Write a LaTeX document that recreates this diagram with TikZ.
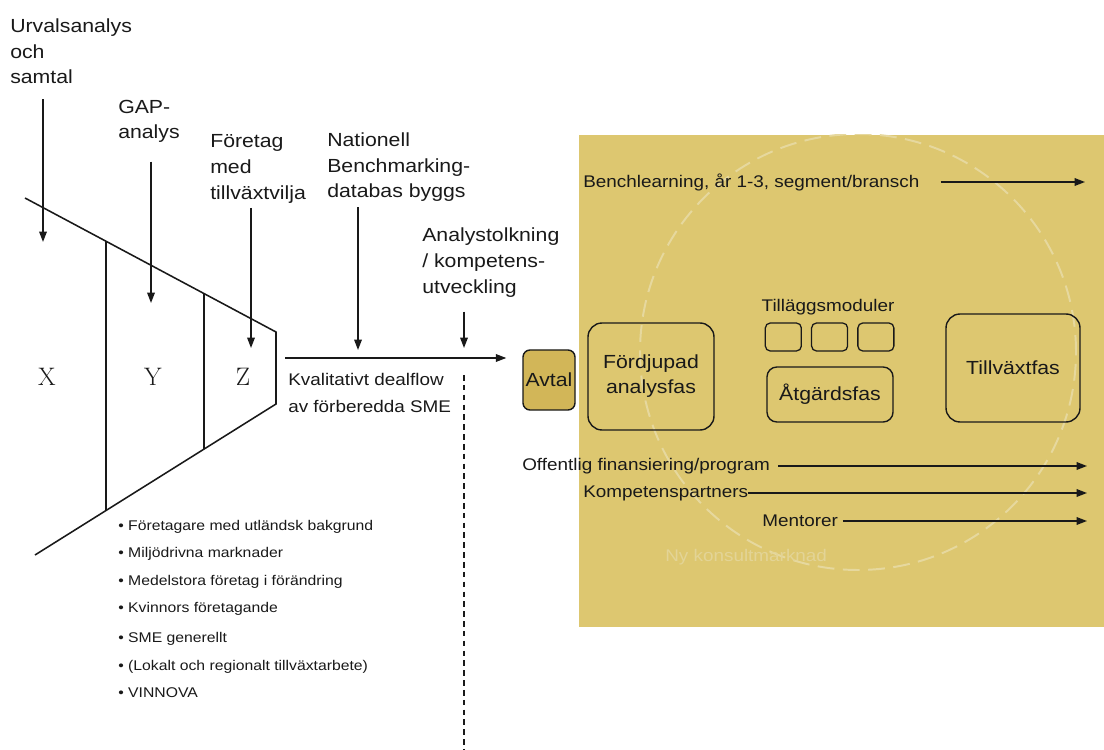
\documentclass[tikz,border=0pt]{standalone}
\usepackage{fontspec}
\usepackage{tikz}
\usetikzlibrary{arrows.meta, positioning, calc}
\newfontfamily\arialfont{Liberation Sans}[FakeStretch=1.12]
\definecolor{sand}{RGB}{221,199,112}
\definecolor{sanddark}{RGB}{210,182,88}
\definecolor{sandlight}{RGB}{230,216,158}
\definecolor{sandfaint}{RGB}{227,212,150}
\definecolor{ink}{RGB}{25,25,25}

\begin{document}
\begin{tikzpicture}[
  toplabel/.style={anchor=north west, inner sep=0pt, align=left, text=ink, font=\arialfont\fontsize{13.5}{18.4}\selectfont},
  sidetext/.style={inner sep=0pt, text=ink, font=\arialfont\fontsize{12}{14}\selectfont},
  phase/.style={draw=ink, line width=1pt, rounded corners=10pt, align=center, text=ink, font=\arialfont\fontsize{13.5}{17.8}\selectfont},
  module/.style={draw=ink, line width=0.9pt, rounded corners=3.5pt, minimum width=0.9cm, minimum height=0.7cm},
  arr/.style={-{Triangle[length=2.6mm, width=1.9mm]}, line width=1pt, ink},
  funnel/.style={line width=1.1pt, ink},
  xyz/.style={inner sep=0pt, text=ink, font=\fontsize{18}{20}\selectfont},
]
  \useasboundingbox (0,0) rectangle (27.6,18.725);

  % Market area
  \fill[sand] (14.475,3.05) rectangle (27.6,15.35);
  \begin{scope}
    \clip (14.475,3.05) rectangle (27.6,15.35);
    \draw[sandlight, line width=1.4pt, dash pattern=on 12pt off 6pt] (21.45,9.925) circle (5.45);
  \end{scope}
  \node[sidetext, text=sandfaint, anchor=west] (market) at (16.625,4.8) {Ny konsultmarknad};

  % Funnel
  \coordinate (fA) at (0.625,13.775);
  \coordinate (fB) at (6.9,10.425);
  \coordinate (fC) at (6.9,8.625);
  \coordinate (fD) at (0.875,4.85);
  \draw[funnel] (fA) -- (fB) -- (fC) -- (fD);
  \draw[funnel] ($(fA)!0.3227!(fB)$) -- ($(fD)!0.2946!(fC)$);
  \draw[funnel] ($(fA)!0.7131!(fB)$) -- ($(fD)!0.7012!(fC)$);
  \node[xyz] (segX) at (1.175,9.3125) {X};
  \node[xyz] (segY) at (3.825,9.3125) {Y};
  \node[xyz] (segZ) at (6.075,9.3125) {Z};

  % Inputs from above
  \node[toplabel] (urval) at (0.25,18.27) {Urvalsanalys\\och\\samtal};
  \node[toplabel] (gap) at (2.95,16.235) {GAP-\\analys};
  \node[toplabel] (foretag) at (5.25,15.36) {Företag\\med\\tillväxtvilja};
  \node[toplabel] (natdb) at (8.175,15.42) {Nationell\\Benchmarking-\\databas byggs};
  \node[toplabel] (tolk) at (10.55,13.04) {Analystolkning\\/ kompetens-\\utveckling};

  \coordinate (urvalTip) at (1.075,12.675);
  \coordinate (gapTip) at (3.775,11.15);
  \coordinate (foretagTip) at (6.275,10.025);
  \coordinate (natdbTip) at (8.95,9.975);
  \coordinate (tolkTip) at (11.6,10.025);

  \draw[arr] ([yshift=-0.375cm]urval.south -| urvalTip) -- (urvalTip);
  \draw[arr] ([yshift=-0.46cm]gap.south -| gapTip) -- (gapTip);
  \draw[arr] ([yshift=-0.1cm]foretag.south -| foretagTip) -- (foretagTip);
  \draw[arr] ([yshift=-0.13cm]natdb.south -| natdbTip) -- (natdbTip);
  \draw[arr] ([yshift=-0.355cm]tolk.south -| tolkTip) -- (tolkTip);

  % Dealflow
  \coordinate (funR) at (6.9,9.775);
  \node[phase, fill=sanddark, rounded corners=5pt, minimum width=1.3cm, minimum height=1.5cm, inner sep=1pt] (avtal) at (13.725,9.225) {Avtal};
  \draw[arr] ([xshift=0.225cm]funR) -- ([xshift=-0.4cm]avtal.west |- funR);
  \node[sidetext, anchor=north west, align=left, font=\arialfont\fontsize{12}{19.2}\selectfont] (dealflow) at (7.2,9.405) {Kvalitativt dealflow\\av förberedda SME};
  \coordinate (dashTop) at (11.6,9.35);
  \coordinate (dashEnd) at (11.6,0);
  \draw[ink, line width=0.8pt, dash pattern=on 4pt off 3pt] (dashTop) -- (dashEnd);

  % Target segments
  \node[anchor=north west, inner sep=0pt, align=left, text=ink, font=\arialfont\fontsize{10}{19.5}\selectfont] (segments) at (2.95,5.725)
    {• Företagare med utländsk bakgrund\\
     • Miljödrivna marknader\\
     • Medelstora företag i förändring\\
     • Kvinnors företagande\\[2pt]
     • SME generellt\\
     • (Lokalt och regionalt tillväxtarbete)\\
     • VINNOVA};

  % Phases
  \node[phase, minimum width=3.15cm, minimum height=2.675cm] (deep) at (16.275,9.3125) {Fördjupad\\analysfas};
  \node[sidetext, anchor=base] (addon) at (20.7,10.925) {Tilläggsmoduler};
  \node[module] (mod2) at (20.74,10.3) {};
  \node[module, left=0.225cm of mod2] (mod1) {};
  \node[module, right=0.225cm of mod2] (mod3) {};
  \node[phase, rounded corners=7pt, minimum width=3.15cm, minimum height=1.375cm] (action) at (20.75,8.8625) {Åtgärdsfas};
  \node[phase, minimum width=3.35cm, minimum height=2.7cm] (growth) at (25.325,9.525) {Tillväxtfas};

  % Support streams
  \node[sidetext, anchor=base west] (benchl) at (14.575,14.025) {Benchlearning, år 1-3, segment/bransch};
  \coordinate (benchlEnd) at (27.125,14.175);
  \draw[arr] ([xshift=0.525cm]benchl.east |- benchlEnd) -- (benchlEnd);

  \node[sidetext, anchor=west] (offentlig) at (13.05,7.075) {Offentlig finansiering/program};
  \node[sidetext, anchor=west] (kompetens) at (14.575,6.4) {Kompetenspartners};
  \node[sidetext, anchor=west] (mentor) at (19.05,5.7) {Mentorer};
  \coordinate (offentligEnd) at (27.175,7.075);
  \coordinate (kompetensEnd) at (27.175,6.4);
  \coordinate (mentorEnd) at (27.175,5.7);
  \draw[arr] ([xshift=0.2cm]offentlig.east) -- (offentligEnd);
  \draw[arr] (kompetens.east) -- (kompetensEnd);
  \draw[arr] ([xshift=0.12cm]mentor.east) -- (mentorEnd);
\end{tikzpicture}
\end{document}
